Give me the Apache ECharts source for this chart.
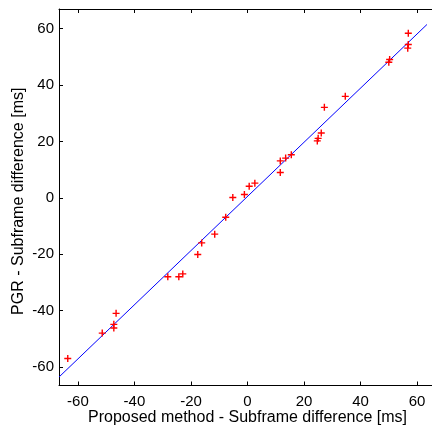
<!DOCTYPE html>
<html>
<head>
<meta charset="utf-8">
<script src="https://cdn.jsdelivr.net/npm/echarts@6/dist/echarts.min.js"></script>
<style>html,body{margin:0;padding:0;background:#fff;}#c{width:432px;height:425px;}</style>
</head>
<body>
<div id="c"></div>
<script>
// Scatter data: proposed method (x) vs PGR (y), in ms
var proposedX = [-63.6, -51.4, -47.3, -47.3, -46.5, -28.2, -24.3, -22.9, -17.6, -16.2, -11.6, -7.7, -5.2, -1.1, 0.6, 2.6, 11.6, 11.6, 13.5, 15.5, 24.7, 25.0, 26.1, 27.2, 34.6, 50.0, 50.3, 56.7, 56.9, 56.9];
var pgrY      = [-57.0, -48.0, -44.9, -46.2, -41.0, -28.0, -28.0, -27.0, -20.1, -16.0, -12.9, -6.9, 0.1, 1.2, 4.1, 5.2, 9.0, 13.1, 14.1, 15.3, 20.2, 21.1, 23.0, 32.1, 36.0, 48.1, 49.1, 53.1, 54.4, 58.4];
// Fitted line endpoints
var lineX = [-66.7, 63.5];
var lineY = [-63.6, 61.5];
var tickValues = [-60, -40, -20, 0, 20, 40, 60];

var pts = proposedX.map(function (x, i) { return [x, pgrY[i]]; });
var linePts = lineX.map(function (x, i) { return [x, lineY[i]]; });

var FONT = "'Liberation Sans', Arial, Helvetica, sans-serif";
var chart = echarts.init(document.getElementById('c'), null, { renderer: 'canvas' });
var axisCommon = {
  type: 'value',
  splitLine: { show: false },
  axisLine: { show: true, onZero: false, lineStyle: { color: '#000', width: 1 } },
  axisTick: { show: true, inside: true, length: 4, lineStyle: { color: '#000' }, customValues: tickValues },
};
chart.setOption({
  animation: false,
  backgroundColor: '#fff',
  grid: { left: 59, top: 9, right: -4, bottom: 39.5, containLabel: false, outerBoundsMode: 'none' },
  xAxis: [
    Object.assign({}, axisCommon, {
      position: 'bottom', min: -66.7, max: 66.7,
      axisLabel: { customValues: tickValues, color: '#000', fontSize: 15, fontFamily: FONT, margin: 9 },
      name: 'Proposed method - Subframe difference [ms]',
      nameLocation: 'middle', nameGap: 24, nameMoveOverlap: false,
      nameTextStyle: { color: '#000', fontSize: 16, fontFamily: FONT }
    }),
    Object.assign({}, axisCommon, {
      position: 'top', min: -66.7, max: 66.7,
      axisLabel: { show: false }
    })
  ],
  yAxis: [
    Object.assign({}, axisCommon, {
      position: 'left', min: -66.6, max: 67,
      axisLabel: { customValues: tickValues, color: '#000', fontSize: 15, fontFamily: FONT, margin: 5 },
      name: 'PGR - Subframe difference [ms]',
      nameLocation: 'middle', nameGap: 32, nameMoveOverlap: false,
      nameTextStyle: { color: '#000', fontSize: 16, fontFamily: FONT, padding: [0, 8, 0, 0] }
    })
  ],
  series: [
    {
      type: 'line', data: linePts, showSymbol: false, symbol: 'none',
      lineStyle: { color: '#0000ff', width: 1 }, z: 2
    },
    {
      type: 'scatter', data: pts,
      symbol: 'path://M4,0H6V4H10V6H6V10H4V6H0V4H4Z', symbolSize: 7,
      itemStyle: { color: '#ff0000', opacity: 1 }, z: 3
    }
  ]
});
</script>
</body>
</html>
